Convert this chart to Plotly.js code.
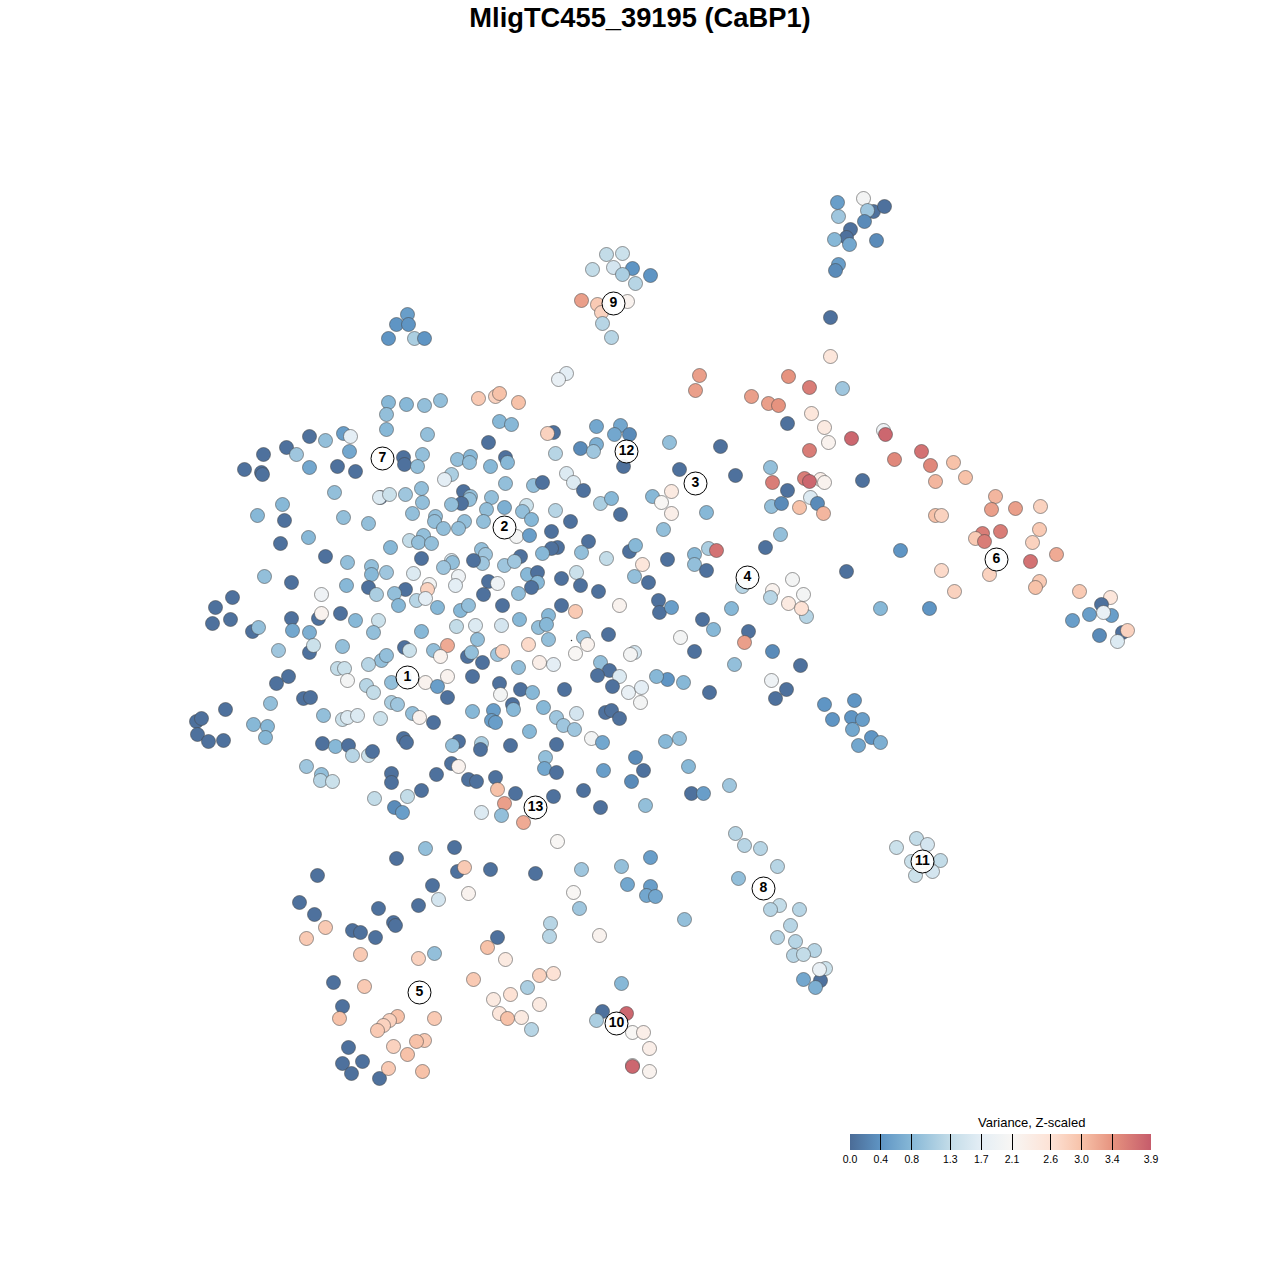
<!DOCTYPE html>
<html><head><meta charset="utf-8">
<script src="https://cdn.plot.ly/plotly-3.0.1.min.js"></script>
<style>html,body{margin:0;padding:0;background:#fff}</style></head>
<body><div id="chart" style="width:1280px;height:1280px"></div>
<script>
// [tSNE x, tSNE y, variance z-scaled]
const upperRightCells=[[837,202,0.5],[863,198,2.0],[873,211,0.05],[884,206,0.05],[867,210,1.0],[838,216,1.0],[864,221,0.3],[850,229,0.05],[846,237,0.05],[834,239,0.8],[849,244,0.6],[876,240,0.3],[838,264,0.5],[835,270,0.3],[830,317,0.05]];
const cluster9Cells=[[606,254,1.3],[622,253,1.4],[592,269,1.3],[613,267,1.5],[632,268,0.4],[622,274,1.1],[650,275,0.4],[635,283,1.2],[581,300,3.3],[627,301,2.2],[597,304,2.9],[601,312,2.8],[602,323,1.2],[611,337,1.2]];
const smallLeftCells=[[407,314,0.5],[396,324,0.4],[408,324,0.4],[388,338,0.4],[414,338,1.1],[424,338,0.4],[566,373,1.7],[558,379,1.8]];
const bandCells=[[830,356,2.5],[699,375,3.3],[695,390,3.3],[788,376,3.4],[809,387,3.6],[842,388,1.0],[751,396,3.3],[768,403,3.3],[778,405,3.4],[811,413,2.5],[824,427,2.4],[828,442,2.2],[787,423,0.05],[883,430,1.9],[885,434,3.8],[851,438,3.8],[809,450,3.6],[921,451,3.7],[894,459,3.5],[930,465,3.5],[953,462,3.0],[965,477,3.0],[935,481,3.1],[804,478,3.6],[820,479,2.3],[809,481,3.8],[824,482,2.2],[772,482,3.6],[787,490,0.05],[770,467,0.9],[862,480,0.05],[735,475,0.05],[810,497,1.6],[817,503,0.3],[799,507,3.0],[771,506,0.9],[781,503,0.3],[823,513,3.1],[780,534,0.9],[765,547,0.05],[720,446,0.05],[679,469,0.05]];
const cluster6Cells=[[995,496,3.1],[991,509,3.3],[1015,508,3.3],[1040,506,2.8],[935,515,3.0],[941,515,2.8],[982,533,3.6],[1000,531,3.6],[975,538,2.9],[984,541,3.6],[1039,529,2.9],[1032,542,2.8],[1056,554,3.2],[1030,561,3.7],[900,550,0.4],[941,570,2.7],[989,574,2.8],[1039,581,2.9],[1035,587,3.0],[954,591,2.8],[1079,591,2.9],[846,571,0.05],[929,608,0.4],[880,608,0.8],[1110,597,2.5],[1101,604,0.05],[1089,614,0.5],[1111,615,0.5],[1103,612,1.8],[1072,620,0.5],[1122,632,0.05],[1127,630,2.8],[1099,635,0.3],[1117,641,1.6]];
const cluster4Cells=[[792,579,2.0],[772,590,2.2],[742,586,1.2],[803,594,2.0],[770,597,1.2],[788,603,2.4],[806,616,1.2],[801,608,2.6],[731,608,0.8],[702,619,0.05],[713,629,0.8],[748,631,0.05],[744,642,3.3],[680,637,2.0],[694,651,0.05],[772,651,0.3],[800,665,0.05],[734,664,0.9],[771,680,1.9],[786,689,0.05],[775,698,0.05],[709,692,0.05],[683,682,0.8],[667,679,0.4],[656,676,0.8],[824,704,0.4],[854,700,0.4],[832,719,0.4],[851,717,0.4],[862,719,0.5],[852,729,0.6],[871,737,0.4],[880,742,0.7],[858,745,0.6]];
const cluster11Cells=[[916,838,1.3],[927,844,1.5],[896,847,1.4],[911,861,1.4],[940,860,1.3],[922,861,1.5],[915,875,1.4],[932,871,1.5]];
const cluster8Cells=[[735,833,1.2],[744,845,1.2],[760,848,1.2],[777,866,1.2],[738,878,0.9],[779,905,1.3],[770,909,1.2],[799,909,1.2],[790,925,1.2],[777,937,1.2],[795,941,1.2],[814,950,1.2],[793,955,1.2],[803,954,1.3],[825,968,1.4],[820,980,0.05],[819,969,1.8],[803,979,0.6],[815,987,0.7]];
const lowerCells=[[684,919,0.9],[650,857,0.5],[621,866,0.9],[627,884,0.6],[650,886,0.5],[646,895,0.6],[655,896,0.6],[581,869,1.0],[573,892,2.1],[579,908,1.0],[550,923,1.2],[549,936,1.2],[599,935,2.2],[557,841,2.1],[535,873,0.05],[490,869,0.05],[454,847,0.05],[425,848,0.9],[396,858,0.05],[457,871,0.05],[464,867,2.9],[432,885,0.05],[468,893,2.2],[438,899,1.5],[418,905,0.05],[378,908,0.05],[393,922,0.05],[395,925,0.05],[317,875,0.05],[299,902,0.05],[314,914,0.05],[325,927,2.9],[306,938,2.9],[352,930,0.05],[360,932,0.05],[375,937,0.05],[360,954,2.9],[434,953,0.9],[418,958,2.8],[497,937,0.05],[487,947,3.0],[505,959,2.4],[473,979,2.9],[539,975,2.8],[553,973,2.6],[527,987,1.1],[621,983,0.8],[333,982,0.05],[364,986,2.9],[342,1006,0.05],[339,1018,3.0],[434,1018,2.9],[397,1016,3.0],[389,1020,2.8],[383,1025,2.8],[377,1030,2.9],[493,999,2.4],[510,994,2.6],[539,1004,2.4],[499,1013,2.5],[507,1018,3.0],[521,1017,2.4],[531,1029,1.2],[602,1011,0.05],[626,1013,3.8],[596,1020,1.1],[632,1032,2.1],[643,1032,2.3],[649,1048,2.3],[632,1065,2.0],[632,1066,3.8],[649,1071,2.2],[393,1046,2.8],[424,1040,2.9],[416,1041,3.0],[407,1054,3.0],[348,1047,0.05],[362,1061,0.05],[342,1063,0.05],[351,1073,0.05],[379,1078,0.05],[388,1068,2.9],[422,1071,3.0]];
const mainCloudUpper=[[478,398,2.9],[495,396,2.8],[499,393,3.0],[518,402,3.0],[388,402,0.8],[406,404,0.8],[424,405,0.9],[440,400,0.9],[386,414,0.9],[386,429,0.8],[499,421,0.8],[511,424,0.8],[596,426,0.6],[620,425,0.6],[553,432,0.05],[547,433,2.8],[629,434,0.3],[614,434,0.6],[427,434,0.9],[488,442,0.05],[343,433,0.5],[350,436,1.7],[309,436,0.05],[325,440,0.9],[286,447,0.05],[263,454,0.05],[296,454,1.0],[349,451,0.6],[596,444,0.7],[580,448,0.3],[593,451,1.0],[555,453,1.2],[669,442,0.9],[403,457,0.05],[404,464,0.05],[422,454,0.9],[457,459,0.9],[470,456,0.8],[469,462,0.9],[505,457,0.05],[507,462,0.8],[490,466,0.8],[417,466,0.9],[244,469,0.05],[261,472,0.05],[262,474,0.05],[309,467,0.6],[337,466,0.05],[355,471,0.05],[623,466,0.05],[566,473,1.6],[451,474,1.1],[444,479,1.7],[573,482,1.6],[505,483,0.9],[533,485,0.9],[542,482,0.05],[583,490,0.05],[463,491,0.05],[421,488,0.9],[334,492,0.9],[380,497,0.05],[379,497,1.6],[389,494,1.4],[405,494,1.0],[422,502,0.9],[470,496,0.9],[491,497,0.9],[469,499,0.9],[461,503,0.05],[451,504,0.9],[504,507,0.7],[486,509,0.9],[526,505,1.4],[522,511,0.9],[555,510,1.2],[600,503,1.1],[611,498,0.8],[652,496,0.8],[661,502,2.1],[671,491,2.4],[671,513,2.3],[706,512,0.8],[620,514,0.05],[282,504,0.8],[257,515,0.8],[284,520,0.05],[343,517,0.9],[368,523,0.9],[412,513,0.9],[435,516,0.9],[434,521,0.9],[464,521,0.9],[443,528,0.9],[458,528,0.9],[483,521,0.9],[531,519,0.8],[570,521,0.05],[663,529,0.9],[308,537,0.8],[280,543,0.05],[551,531,0.05],[516,536,2.0],[588,541,0.05],[423,535,0.9],[409,540,1.3],[418,542,0.9],[431,543,0.9],[390,547,0.8],[481,549,0.9],[529,535,0.5],[520,556,0.05],[557,547,0.05],[551,548,0.05],[542,553,0.8],[581,552,0.9],[629,551,0.05],[635,545,0.8],[606,558,1.3],[694,554,0.8],[708,548,1.1],[716,550,3.7],[694,564,0.9],[706,570,0.05],[642,564,2.5],[667,559,0.05],[325,556,0.05],[347,562,0.9],[421,558,0.05],[451,560,1.6],[452,562,0.9],[443,567,1.0],[485,554,1.0],[482,563,1.0],[504,565,1.0],[514,561,1.0],[473,560,0.05],[527,574,0.8],[537,572,0.05],[371,566,0.9],[371,574,0.8],[386,572,1.0],[413,573,1.6],[458,576,1.9],[264,576,0.9],[291,582,0.05],[346,585,0.8],[368,587,0.05],[429,584,2.0],[427,589,2.8],[455,585,1.7],[488,581,0.05],[497,583,1.9],[537,582,0.8],[561,578,0.05],[576,572,1.4],[580,585,0.05],[634,576,0.9],[648,582,0.05],[598,591,0.05],[483,594,0.05],[518,593,0.9],[531,587,0.05],[405,589,0.05],[394,593,0.9],[376,594,1.1],[321,594,1.9],[416,600,1.2],[425,598,1.7],[398,605,0.8]];
const mainCloudLower=[[232,597,0.05],[215,607,0.05],[212,623,0.05],[230,619,0.05],[291,618,0.05],[318,618,0.05],[321,613,2.2],[340,613,0.05],[355,620,0.8],[378,620,1.4],[437,607,0.8],[460,610,0.8],[468,605,0.9],[502,605,0.05],[548,615,0.8],[561,605,0.05],[575,611,2.9],[619,605,2.2],[658,600,0.05],[659,612,0.05],[671,607,0.5],[252,631,0.05],[258,627,0.9],[292,630,0.6],[309,632,0.7],[373,632,0.9],[421,631,0.8],[456,626,1.3],[475,625,1.6],[501,625,1.5],[519,619,0.8],[538,627,0.9],[546,624,0.8],[608,634,0.05],[583,637,1.0],[477,639,0.9],[548,639,0.9],[587,644,2.2],[447,645,3.2],[433,650,0.9],[404,647,0.05],[409,650,1.4],[342,646,0.9],[309,652,0.05],[313,645,1.4],[278,650,1.0],[381,660,0.9],[386,655,0.9],[440,656,2.2],[467,656,0.05],[471,652,0.9],[497,654,1.0],[502,651,2.8],[528,644,2.7],[575,653,2.1],[634,652,1.5],[630,654,2.0],[368,664,1.2],[337,668,1.3],[344,668,1.4],[482,662,0.05],[518,667,0.9],[539,662,2.3],[553,664,1.7],[600,662,0.9],[609,670,0.05],[597,675,0.05],[619,676,1.6],[288,676,0.05],[347,680,2.0],[276,683,0.05],[391,682,0.9],[404,677,1.0],[425,682,2.2],[447,676,2.2],[472,676,0.05],[499,683,0.05],[437,686,0.5],[366,685,1.2],[373,692,1.3],[303,698,0.05],[310,697,0.05],[500,694,2.0],[447,697,0.05],[520,689,0.05],[532,692,0.8],[564,689,0.05],[612,686,0.05],[628,692,1.8],[641,687,1.7],[640,702,2.0],[270,703,0.9],[391,702,1.1],[397,704,1.0],[512,704,0.05],[513,709,0.8],[543,707,0.8],[472,711,0.8],[493,710,0.5],[225,709,0.05],[196,721,0.05],[201,718,0.05],[197,734,0.05],[208,741,0.05],[223,740,0.05],[253,724,0.8],[267,726,0.8],[265,737,0.8],[323,715,0.9],[342,719,1.4],[347,717,1.6],[357,715,1.6],[380,718,1.4],[412,713,0.9],[419,717,2.2],[433,722,0.05],[491,720,0.5],[495,722,0.5],[556,717,1.0],[576,713,1.5],[605,712,0.05],[611,710,0.05],[619,718,0.05],[563,725,1.0],[574,729,1.0],[529,731,0.8],[591,738,2.0],[602,742,0.6],[665,741,0.8],[679,738,0.9],[403,738,0.05],[406,742,0.05],[322,743,0.05],[335,746,0.8],[348,745,0.05],[352,755,1.2],[368,755,1.4],[372,751,0.05],[458,741,0.05],[452,745,0.9],[481,743,1.1],[480,749,0.05],[510,745,0.05],[556,744,0.05],[545,757,0.9],[544,768,0.6],[556,772,0.05],[635,757,0.3],[306,766,1.0],[321,774,0.9],[320,780,1.2],[332,781,1.4],[391,773,0.05],[391,782,0.05],[436,774,0.05],[451,763,0.05],[458,766,2.2],[468,779,0.05],[476,781,0.05],[495,777,0.05],[603,770,0.5],[643,770,0.05],[631,781,0.3],[688,766,0.8],[729,785,1.0],[691,793,0.05],[703,793,0.5],[421,790,0.05],[497,789,3.0],[515,793,0.05],[553,796,0.05],[583,790,0.05],[374,798,1.3],[407,796,1.3],[504,803,3.3],[394,807,0.3],[402,812,0.5],[481,812,1.6],[501,815,0.9],[523,822,3.2],[600,807,0.05],[645,805,0.9]];
const strayX=[571];
const strayY=[640];
const clusterNames=['1','2','3','4','5','6','7','8','9','10','11','12','13'];
const clusterX=[407,504,695,747,419,996,382,763,613,616,922,626,535];
const clusterY=[677,527,483,577,992,559,458,888,303,1023,861,451,807];
const legendTicks=[0,0.4,0.8,1.3,1.7,2.1,2.6,3.0,3.4,3.9];
const legendColors=['#4b6c97','#5f95c4','#87b8d7','#c3dce8','#e4eef5','#f8f6f4','#fde2d5','#f7c2a9','#e6937f','#c65c6b'];

const all=[...mainCloudUpper,...mainCloudLower,...upperRightCells,...cluster9Cells,...smallLeftCells,...bandCells,...cluster6Cells,...cluster4Cells,...cluster11Cells,...cluster8Cells,...lowerCells];
const cmax=3.9;
const scale=legendTicks.map((t,i)=>[t/cmax,legendColors[i]]);
const fontName='Liberation Sans, Arial, sans-serif';
const cells={type:'scatter',mode:'markers',x:all.map(p=>p[0]),y:all.map(p=>p[1]),hoverinfo:'skip',
 marker:{size:14,color:all.map(p=>p[2]),cmin:0,cmax:cmax,colorscale:scale,line:{color:'rgba(70,70,70,0.55)',width:1},
  colorbar:{orientation:'h',x:850/1280,xanchor:'left',y:1-1134/1280,yanchor:'top',lenmode:'pixels',len:301,thickness:15.5,thicknessmode:'pixels',xpad:0,ypad:0,outlinewidth:0,
   tickmode:'array',tickvals:legendTicks,ticktext:legendTicks.map(t=>t.toFixed(1)),ticks:'inside',ticklen:15.5,tickwidth:1,tickcolor:'#000',
   tickfont:{family:fontName,size:10.5,color:'#000'}}}};
const stray={type:'scatter',mode:'markers',x:strayX,y:strayY,hoverinfo:'skip',marker:{size:1.5,color:'#333'}};
const labels={type:'scatter',mode:'markers+text',x:clusterX,y:clusterY,text:clusterNames,textposition:'middle center',hoverinfo:'skip',
 textfont:{family:fontName,size:14,color:'#000',weight:'bold'},
 marker:{size:23,color:'rgba(255,255,255,0.92)',line:{color:'#000',width:1}}};
Plotly.newPlot('chart',[cells,stray,labels],{
 width:1280,height:1280,showlegend:false,paper_bgcolor:'#fff',plot_bgcolor:'#fff',
 margin:{l:0,r:0,t:0,b:0,autoexpand:false},
 title:{text:'<b>MligTC455_39195 (CaBP1)</b>',x:0.5,xanchor:'center',y:1-17/1280,yanchor:'middle',font:{family:fontName,size:27.3,color:'#000'}},
 xaxis:{range:[-0.5,1279.5],visible:false,fixedrange:true},
 yaxis:{range:[1279.5,-0.5],visible:false,fixedrange:true},
 annotations:[{text:'Variance, Z-scaled',xref:'paper',yref:'paper',x:1031/1280,y:1-1122/1280,xanchor:'center',yanchor:'middle',showarrow:false,font:{family:fontName,size:13,color:'#000'}}]
},{staticPlot:true,displayModeBar:false});
</script></body></html>
